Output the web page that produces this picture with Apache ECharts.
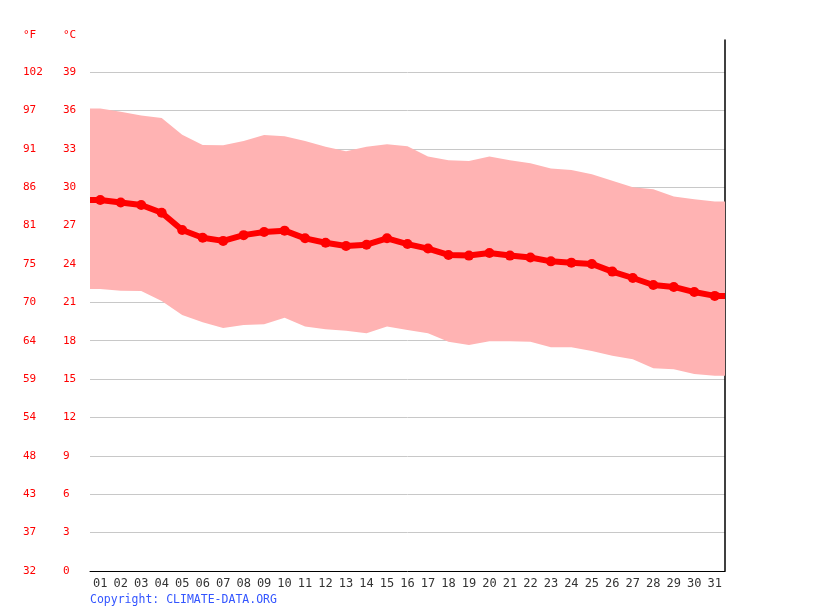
<!DOCTYPE html>
<html>
<head>
<meta charset="utf-8">
<script src="https://cdn.jsdelivr.net/npm/echarts@6/dist/echarts.min.js"></script>
<style>
    html, body { margin: 0; padding: 0; background: #fff; }
    #main { width: 815px; height: 611px; }
</style>
</head>
<body>
<div id="main"></div>
<script>
// 日期 (类目)
var days = ['01','02','03','04','05','06','07','08','09','10','11','12','13','14','15','16',
    '17','18','19','20','21','22','23','24','25','26','27','28','29','30','31'];
// 平均温度 °C
var tempMean = [29.0, 28.8, 28.6, 28.0, 26.65, 26.05, 25.8, 26.25, 26.5, 26.6, 26.0, 25.65, 25.4, 25.5, 26.0, 25.55,
    25.2, 24.7, 24.65, 24.85, 24.65, 24.5, 24.2, 24.1, 24.0, 23.4, 22.9, 22.35, 22.2, 21.8, 21.5];
// 最高温度 °C
var tempMax = [36.15, 35.9, 35.6, 35.4, 34.1, 33.3, 33.27, 33.6, 34.08, 33.97, 33.6, 33.16, 32.8, 33.16, 33.35, 33.2,
    32.4, 32.1, 32.04, 32.4, 32.1, 31.87, 31.45, 31.34, 31.0, 30.5, 30.0, 29.83, 29.26, 29.05, 28.87];
// 最低温度 °C
var tempMin = [22.04, 21.9, 21.88, 21.1, 20.0, 19.44, 19.0, 19.23, 19.28, 19.8, 19.1, 18.9, 18.78, 18.58, 19.1, 18.84,
    18.58, 17.92, 17.66, 17.95, 17.95, 17.92, 17.48, 17.48, 17.2, 16.83, 16.55, 15.84, 15.76, 15.4, 15.26];
// 刻度标签
var celsiusTicks = [0, 3, 6, 9, 12, 15, 18, 21, 24, 27, 30, 33, 36, 39];
var fahrenheitTicks = ['32','37','43','48','54','59','64','70','75','81','86','91','97','102'];

var monoFont = '"DejaVu Sans Mono", monospace';

// 曲线延伸到图表左右边缘
function toPoints(values) {
    var pts = [[0.5, values[0]]];
    values.forEach(function (v, i) {
        pts.push([i + 1, v]);
    });
    pts.push([values.length + 0.5, values[values.length - 1]]);
    return pts;
}
function fLabel(v) {
    var idx = celsiusTicks.indexOf(v);
    return idx < 0 ? '' : fahrenheitTicks[idx];
}

var maxPts = toPoints(tempMax);
var minPts = toPoints(tempMin);
var meanPts = toPoints(tempMean).map(function (p, i, arr) {
    var edge = (i === 0 || i === arr.length - 1);
    return { value: p, symbol: edge ? 'none' : 'circle' };
});

// 最高/最低温度之间的区域
function renderBand(params, api) {
    var upper = maxPts.map(function (p) { return api.coord(p); });
    var lower = minPts.slice().reverse().map(function (p) { return api.coord(p); });
    return {
        type: 'polygon',
        shape: { points: upper.concat(lower) },
        style: { fill: '#ffb3b3' }
    };
}

var myChart = echarts.init(document.getElementById('main'));
var option = {
    animation: false,
    grid: { left: 90, right: 90, top: 40, bottom: 40 },
    xAxis: [
        {
            type: 'category',
            data: days,
            boundaryGap: true,
            axisLine: { lineStyle: { color: '#000', width: 1 } },
            axisTick: { alignWithLabel: false, length: 4, lineStyle: { color: '#000' } },
            axisLabel: { color: '#333', fontFamily: monoFont, fontSize: 12, margin: 7 },
            splitLine: { show: false }
        },
        {
            type: 'value',
            min: 0.5,
            max: days.length + 0.5,
            show: false
        }
    ],
    yAxis: [
        {
            type: 'value',
            position: 'left',
            min: 0, max: 41.5, interval: 3,
            axisLine: { show: false },
            axisTick: { show: false },
            axisLabel: {
                color: '#ff0000', fontFamily: monoFont, fontSize: 11,
                align: 'left', margin: 27, showMaxLabel: false
            },
            splitLine: { showMinLine: false, showMaxLine: false, lineStyle: { color: '#c8c8c8', width: 1 } }
        },
        {
            type: 'value',
            position: 'left',
            min: 0, max: 41.5, interval: 3,
            axisLine: { show: false },
            axisTick: { show: false },
            axisLabel: {
                color: '#ff0000', fontFamily: monoFont, fontSize: 11,
                align: 'left', margin: 67, showMaxLabel: false,
                formatter: fLabel
            },
            splitLine: { show: false }
        },
        {
            type: 'value',
            position: 'right',
            min: 0, max: 41.5,
            axisLine: { show: true, lineStyle: { color: '#000', width: 1.5 } },
            axisTick: { show: false },
            axisLabel: { show: false },
            splitLine: { show: false }
        }
    ],
    graphic: [
        { type: 'text', left: 23, top: 30, style: { text: '°F', fill: '#ff0000', font: '11px ' + monoFont } },
        { type: 'text', left: 63, top: 30, style: { text: '°C', fill: '#ff0000', font: '11px ' + monoFont } },
        { type: 'text', left: 90, top: 594, style: { text: 'Copyright: CLIMATE-DATA.ORG', fill: '#3355ff', font: '11.5px ' + monoFont } }
    ],
    series: [
        {
            name: 'band',
            type: 'custom',
            xAxisIndex: 1,
            renderItem: renderBand,
            data: [0],
            silent: true,
            z: 2
        },
        {
            name: 'mean',
            type: 'line',
            xAxisIndex: 1,
            data: meanPts,
            symbolSize: 10,
            itemStyle: { color: '#ff0000' },
            lineStyle: { color: '#ff0000', width: 6 },
            z: 3
        }
    ]
};
myChart.setOption(option);
</script>
</body>
</html>
